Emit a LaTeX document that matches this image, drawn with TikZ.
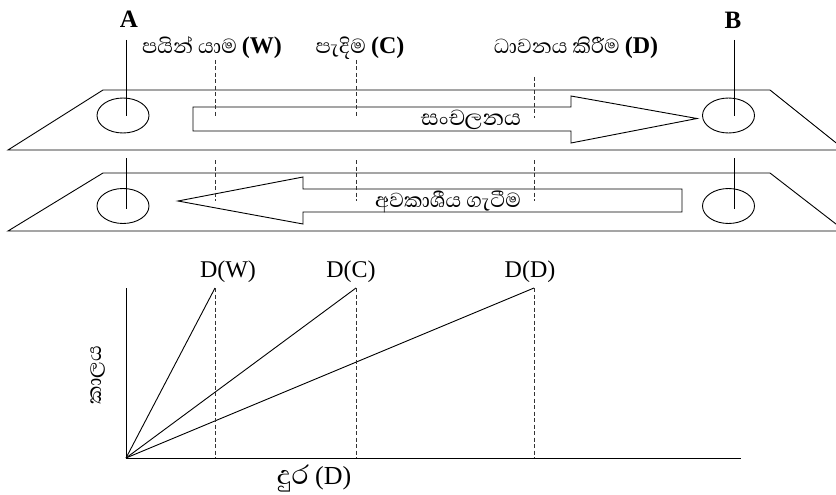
\documentclass[tikz,border=0pt]{standalone}
\usepackage{fontspec}
\setmainfont{Liberation Serif}
\newfontfamily\sinhfont[Script=Sinhala]{Abhaya Libre}
\usetikzlibrary{shapes.geometric}
\begin{document}
\begin{tikzpicture}[x=1pt,y=-1pt,line width=0.9pt,
  ell/.style={draw, ellipse, minimum width=52pt, minimum height=35pt, inner sep=0pt},
  dsh/.style={dash pattern=on 4pt off 2.5pt, line width=0.8pt, draw=black!80},
  lat/.style={inner sep=0pt, font=\fontsize{24}{28}\selectfont},
  sin/.style={inner sep=0pt, font=\fontsize{26}{30}\selectfont},
  ptr/.style={line width=0.9pt}]
\useasboundingbox (0,0) rectangle (836,495);
\clip (0,0) rectangle (836,495);
% ---------- platforms ----------
\draw (103,90) -- (770,90) -- (845,150) -- (8,150) -- cycle;
\draw (103,173) -- (770,173) -- (845,231) -- (8,231) -- cycle;
% ---------- ellipses ----------
\node[ell] (A1) at (123,115.5) {};
\node[ell] (B1) at (728.5,115.5) {};
\node[ell] (A2) at (123,206) {};
\node[ell] (B2) at (728.5,206) {};
% ---------- labels A, B ----------
\node[lat, font=\fontsize{25}{29}\selectfont\bfseries] (lA) at (129,19) {A};
\node[lat, font=\fontsize{25}{29}\selectfont\bfseries] (lB) at (733,20) {B};
\coordinate (tA) at (126,40);
\coordinate (tB) at (734,40);
\coordinate (mA) at (126,158);
\coordinate (mB) at (734,158);
\draw[ptr] (tA) -- (126,115.5);
\draw[ptr] (tB) -- (734,115.5);
\draw[ptr] (mA) -- (126,209);
\draw[ptr] (mB) -- (734,209);
% ---------- mode labels ----------
\node[sin] (lW) at (212,48) {\sinhfont පයින් යාම \textrm{\fontsize{24}{28}\selectfont\bfseries (W)}};
\node[sin] (lC) at (360,48) {\sinhfont පැදිම \textrm{\fontsize{24}{28}\selectfont\bfseries (C)}};
\node[sin] (lD) at (576,48) {\sinhfont ධාවනය කිරීම \textrm{\fontsize{24}{28}\selectfont\bfseries (D)}};
\coordinate (w1) at (215,60);  \coordinate (w2) at (215,118);
\coordinate (c1) at (356,60);  \coordinate (c2) at (356,118);
\coordinate (d1) at (534,77);  \coordinate (d2) at (534,118);
\coordinate (w3) at (215,160); \coordinate (w4) at (215,201);
\coordinate (c3) at (356,160); \coordinate (c4) at (356,201);
\coordinate (d3) at (534,160); \coordinate (d4) at (534,201);
% ---------- block arrows ----------
\draw[fill=white] (193,107) -- (571,107) -- (571,96) -- (697,118.5) -- (571,143) -- (571,131) -- (193,131) -- cycle;
\draw[fill=white] (682,189) -- (303,189) -- (303,177) -- (178,201) -- (303,224) -- (303,212) -- (682,212) -- cycle;
\draw[dsh] (w1) -- (w2); \draw[dsh] (c1) -- (c2); \draw[dsh] (d1) -- (d2);
\draw[dsh] (w3) -- (w4); \draw[dsh] (c3) -- (c4); \draw[dsh] (d3) -- (d4);
\node[sin, font=\fontsize{28}{32}\selectfont] (mov) at (471,120) {\sinhfont සංචලනය};
\node[sin] (acc) at (448,202) {\sinhfont අවකාශීය ගැටීම};
% ---------- graph ----------
\coordinate (O) at (126,458);
\coordinate (Ytop) at (126,288);
\coordinate (Xend) at (741,458);
\coordinate (pW) at (215,288);
\coordinate (pC) at (356,288);
\coordinate (pD) at (534,288);
\coordinate (bW) at (215,458);
\coordinate (bC) at (356,458);
\coordinate (bD) at (534,458);
\draw (Ytop) -- (O) -- (Xend);
\draw (O) -- (pW);
\draw (O) -- (pC);
\draw (O) -- (pD);
\draw[dsh] (pW) -- (bW);
\draw[dsh] (pC) -- (bC);
\draw[dsh] (pD) -- (bD);
\node[lat] (gW) at (228,272) {D(W)};
\node[lat] (gC) at (351,272) {D(C)};
\node[lat] (gD) at (530,272) {D(D)};
\node[sin, rotate=90] (yl) at (98,375) {\sinhfont කාලය};
\node[sin, font=\fontsize{34}{38}\selectfont] (xl) at (314,478) {\sinhfont දුර \textrm{\fontsize{26}{30}\selectfont (D)}};
\end{tikzpicture}
\end{document}
